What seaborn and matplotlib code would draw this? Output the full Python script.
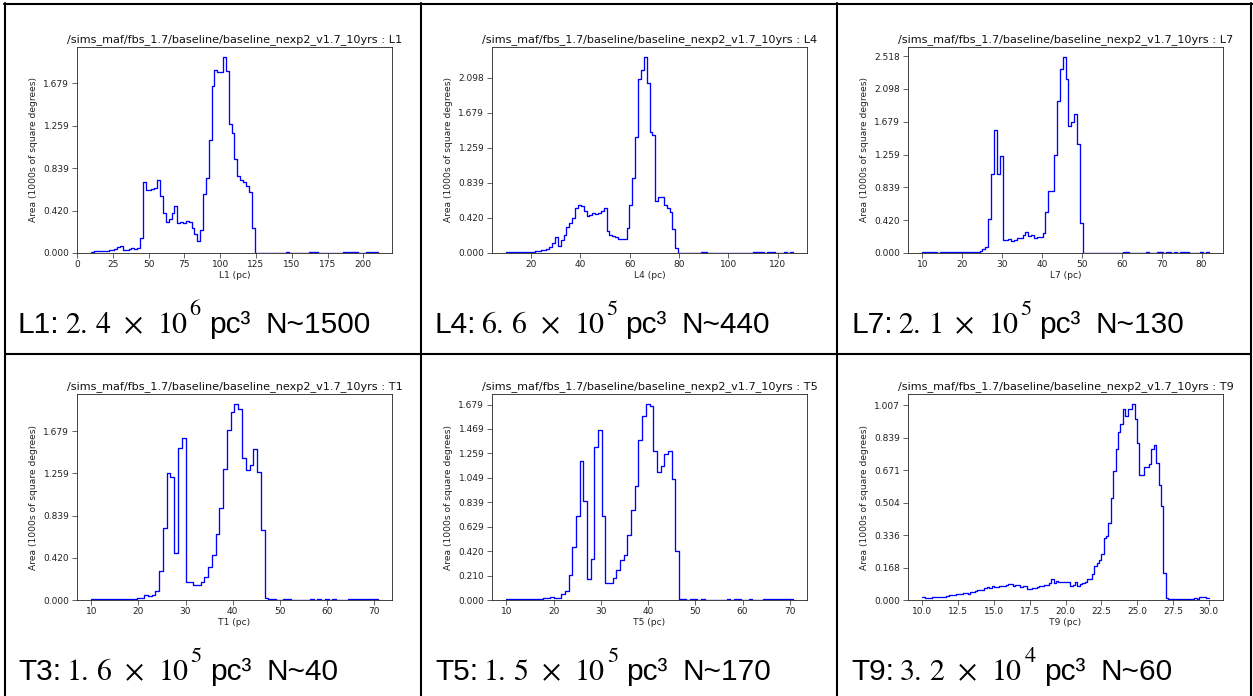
import numpy as np
import pandas as pd
import matplotlib
matplotlib.use("Agg")
import matplotlib.pyplot as plt
import seaborn as sns
from matplotlib.lines import Line2D
from matplotlib.ticker import FormatStrFormatter

# ---------------- data ----------------
run_name = "/sims_maf/fbs_1.7/baseline/baseline_nexp2_v1.7_10yrs"
metric_names = ["L1", "L4", "L7", "T1", "T5", "T9"]

# histogram bins: first edge and bin width (pc)
bin_start = [10.0, 10.0, 10.0, 10.0, 10.0, 10.0]
bin_width = [2.0, 1.16, 0.718, 0.8, 0.777, 1.0 / 6.0]

# bin heights (1000s of square degrees)
l1_heights = [0.008, 0.015, 0.015, 0.015, 0.02, 0.02, 0.025, 0.03, 0.04, 0.06,
              0.07, 0.03, 0.03, 0.04, 0.05, 0.04, 0.05, 0.15, 0.70, 0.62,
              0.62, 0.63, 0.64, 0.72, 0.56, 0.40, 0.31, 0.34, 0.40, 0.46,
              0.30, 0.31, 0.30, 0.32, 0.31, 0.25, 0.19, 0.12, 0.23, 0.58,
              0.74, 1.12, 1.65, 1.81, 1.79, 1.79, 1.94, 1.80, 1.28, 1.19,
              0.93, 0.76, 0.72, 0.70, 0.66, 0.60, 0.25, 0.0, 0.0, 0.0,
              0.0, 0.0, 0.0, 0.0, 0.0, 0.0, 0.0, 0.0, 0.012, 0.0,
              0.0, 0.0, 0.0, 0.0, 0.0, 0.0, 0.012, 0.012, 0.012, 0.0,
              0.0, 0.0, 0.0, 0.0, 0.0, 0.0, 0.0, 0.0, 0.012, 0.012,
              0.012, 0.012, 0.012, 0.0, 0.0, 0.0, 0.012, 0.012, 0.012, 0.012]

l4_heights = [0.008, 0.008, 0.008, 0.008, 0.008, 0.008, 0.008, 0.008, 0.008, 0.015,
              0.02, 0.025, 0.03, 0.04, 0.05, 0.07, 0.12, 0.19, 0.08, 0.16,
              0.21, 0.31, 0.36, 0.42, 0.54, 0.57, 0.56, 0.50, 0.44, 0.46,
              0.48, 0.47, 0.48, 0.50, 0.54, 0.26, 0.21, 0.20, 0.19, 0.17,
              0.17, 0.17, 0.30, 0.57, 0.90, 1.39, 2.08, 2.19, 2.35, 2.04,
              1.45, 1.41, 0.62, 0.67, 0.67, 0.58, 0.54, 0.49, 0.29, 0.06,
              0.0, 0.0, 0.0, 0.0, 0.0, 0.0, 0.0, 0.0, 0.012, 0.012,
              0.0, 0.0, 0.0, 0.0, 0.0, 0.0, 0.0, 0.0, 0.0, 0.0,
              0.0, 0.0, 0.0, 0.0, 0.0, 0.0, 0.012, 0.012, 0.012, 0.012,
              0.0, 0.012, 0.012, 0.012, 0.0, 0.0, 0.0, 0.012, 0.0, 0.012]

l7_heights = [0.01, 0.01, 0.01, 0.01, 0.01, 0.0, 0.01, 0.01, 0.01, 0.01,
              0.01, 0.01, 0.01, 0.01, 0.012, 0.012, 0.012, 0.018, 0.018, 0.018,
              0.03, 0.05, 0.08, 0.435, 1.01, 1.57, 1.01, 1.24, 0.17, 0.16,
              0.18, 0.15, 0.17, 0.19, 0.19, 0.23, 0.27, 0.22, 0.23, 0.19,
              0.20, 0.20, 0.25, 0.52, 0.79, 0.79, 1.25, 1.95, 2.35, 2.51,
              2.23, 1.63, 1.68, 1.78, 1.40, 0.38, 0.0, 0.0, 0.0, 0.0,
              0.0, 0.0, 0.0, 0.0, 0.0, 0.0, 0.0, 0.0, 0.0, 0.0,
              0.012, 0.012, 0.0, 0.0, 0.0, 0.0, 0.0, 0.0, 0.012, 0.0,
              0.0, 0.0, 0.012, 0.012, 0.0, 0.012, 0.012, 0.0, 0.012, 0.0,
              0.012, 0.012, 0.012, 0.0, 0.0, 0.0, 0.0, 0.012, 0.0, 0.012]

t1_heights = [0.008, 0.008, 0.008, 0.008, 0.008, 0.008, 0.008, 0.01, 0.01, 0.01,
              0.01, 0.012, 0.02, 0.018, 0.05, 0.04, 0.05, 0.09, 0.29, 0.72,
              1.26, 1.22, 0.47, 1.51, 1.61, 0.18, 0.175, 0.146, 0.146, 0.175,
              0.23, 0.33, 0.45, 0.66, 0.91, 1.30, 1.69, 1.87, 1.95, 1.90,
              1.41, 1.29, 1.34, 1.50, 1.27, 0.70, 0.015, 0.01, 0.01, 0.0,
              0.0, 0.01, 0.01, 0.0, 0.0, 0.0, 0.0, 0.0, 0.01, 0.0,
              0.01, 0.0, 0.01, 0.0, 0.01, 0.0, 0.0, 0.0, 0.01, 0.01,
              0.01, 0.01, 0.01, 0.01, 0.01, 0.01]

t5_heights = [0.008, 0.008, 0.008, 0.008, 0.012, 0.012, 0.012, 0.012, 0.012, 0.012,
              0.02, 0.02, 0.025, 0.02, 0.02, 0.05, 0.08, 0.215, 0.453, 0.72,
              1.19, 0.85, 0.178, 0.35, 1.31, 1.46, 0.72, 0.144, 0.144, 0.19,
              0.26, 0.34, 0.39, 0.56, 0.77, 0.98, 1.37, 1.58, 1.685, 1.67,
              1.28, 1.10, 1.15, 1.25, 1.28, 1.04, 0.42, 0.009, 0.009, 0.0,
              0.009, 0.009, 0.0, 0.009, 0.0, 0.0, 0.0, 0.0, 0.0, 0.0,
              0.009, 0.0, 0.009, 0.009, 0.0, 0.0, 0.009, 0.0, 0.0, 0.0,
              0.009, 0.009, 0.009, 0.009, 0.009, 0.009, 0.009, 0.009]

t9_heights = [0.014, 0.012, 0.012, 0.012, 0.013, 0.014, 0.015, 0.015, 0.017, 0.018,
              0.022, 0.024, 0.024, 0.025, 0.030, 0.030, 0.030, 0.038, 0.034, 0.033,
              0.040, 0.040, 0.045, 0.052, 0.050, 0.052, 0.060, 0.066, 0.060, 0.070,
              0.068, 0.068, 0.070, 0.070, 0.070, 0.075, 0.085, 0.085, 0.070, 0.075,
              0.075, 0.065, 0.070, 0.072, 0.055, 0.058, 0.060, 0.062, 0.065, 0.070,
              0.072, 0.075, 0.080, 0.090, 0.107, 0.090, 0.098, 0.092, 0.095, 0.095,
              0.095, 0.095, 0.072, 0.075, 0.095, 0.070, 0.085, 0.090, 0.095, 0.110,
              0.110, 0.135, 0.176, 0.190, 0.207, 0.240, 0.320, 0.330, 0.400, 0.527,
              0.665, 0.780, 0.870, 0.910, 0.985, 0.950, 0.985, 0.985, 1.014, 0.937,
              0.810, 0.648, 0.645, 0.688, 0.688, 0.703, 0.780, 0.800, 0.708, 0.596,
              0.487, 0.140, 0.009, 0.006, 0.006, 0.006, 0.006, 0.006, 0.006, 0.006,
              0.006, 0.006, 0.006, 0.006, 0.009, 0.007, 0.015, 0.017, 0.015, 0.012]

all_heights = [l1_heights, l4_heights, l7_heights, t1_heights, t5_heights, t9_heights]

# tick values
x_ticks = [[0, 25, 50, 75, 100, 125, 150, 175, 200],
           [20, 40, 60, 80, 100, 120],
           [10, 20, 30, 40, 50, 60, 70, 80],
           [10, 20, 30, 40, 50, 60, 70],
           [10, 20, 30, 40, 50, 60, 70],
           [10.0, 12.5, 15.0, 17.5, 20.0, 22.5, 25.0, 27.5, 30.0]]
x_fmt = ["%d", "%d", "%d", "%d", "%d", "%.1f"]
y_ticks = [[0.0, 0.4196, 0.8393, 1.2589, 1.6786],
           [0.0, 0.4196, 0.8393, 1.2589, 1.6786, 2.0982],
           [0.0, 0.4196, 0.8393, 1.2589, 1.6786, 2.0982, 2.5179],
           [0.0, 0.4196, 0.8393, 1.2589, 1.6786],
           [0.0, 0.2098, 0.4196, 0.6295, 0.8393, 1.0491, 1.2589, 1.4688, 1.6786],
           [0.0, 0.16786, 0.33572, 0.50357, 0.67143, 0.83929, 1.00715]]

# captions
cap_labels = ["L1", "L4", "L7", "T3", "T5", "T9"]
cap_mantissa = ["2.\\,4", "6.\\,6", "2.\\,1", "1.\\,6", "1.\\,5", "3.\\,2"]
cap_exponent = ["6", "5", "5", "5", "5", "4"]
cap_count = ["1500", "440", "130", "40", "170", "60"]

# ---------------- styling ----------------
sns.set_theme(style="ticks")
plt.rcParams['font.family'] = ['DejaVu Sans']
plt.rcParams['mathtext.fontset'] = 'stix'

W, H = 1253, 696
fig = plt.figure(figsize=(W / 100, H / 100), dpi=100)
fig.patch.set_facecolor("white")
renderer = fig.canvas.get_renderer()

col_left = [77, 492, 908]
row_top = [47, 394]
ax_w, ax_h = 315, 206
cap_x = [18, 435, 851]
cap_y = [333, 680]

sans = ["Liberation Sans", "DejaVu Sans"]
cap_size = 21.5


def put(x_px, base_px, s, size, family=None):
    kw = dict(fontsize=size, va="baseline", ha="left", color="black")
    if family is not None:
        kw["family"] = family
    t = fig.text(x_px / W, 1 - base_px / H, s, **kw)
    bb = t.get_window_extent(renderer)
    return bb.x1


for i in range(6):
    r, c = divmod(i, 3)
    left = col_left[c]
    top = row_top[r]
    ax = fig.add_axes([left / W, 1 - (top + ax_h) / H, ax_w / W, ax_h / H])
    ax.set_facecolor("white")
    heights = np.array(all_heights[i])
    n = len(heights)
    edges = bin_start[i] + bin_width[i] * np.arange(n + 1)
    centers = edges[:-1] + bin_width[i] / 2
    df = pd.DataFrame({"x": centers, "w": heights})
    sns.histplot(data=df, x="x", weights="w", bins=[float(e) for e in edges],
                 element="step", fill=False, color="blue", linewidth=0.95, ax=ax)
    span = edges[-1] - edges[0]
    ax.set_xlim(edges[0] - 0.05 * span, edges[-1] + 0.05 * span)
    ax.set_ylim(0, 1.05 * heights.max())
    ax.set_xticks(x_ticks[i])
    ax.xaxis.set_major_formatter(FormatStrFormatter(x_fmt[i]))
    ax.set_yticks(y_ticks[i])
    ax.yaxis.set_major_formatter(FormatStrFormatter("%.3f"))
    ax.tick_params(axis="both", labelsize=6.5, length=3.6, width=0.5,
                   color="#222222", labelcolor="#222222")
    ax.tick_params(axis="x", pad=1.2)
    ax.tick_params(axis="y", pad=2.0)
    for sp in ax.spines.values():
        sp.set_visible(True)
        sp.set_linewidth(0.6)
        sp.set_color("#222222")
    ax.set_title(f"{run_name} : {metric_names[i]}", fontsize=8.1, pad=3.6,
                 color="#111111")
    ax.set_xlabel(f"{metric_names[i]} (pc)", fontsize=6.6, labelpad=2.0,
                  color="#222222")
    ax.set_ylabel("Area (1000s of square degrees)", fontsize=6.6,
                  labelpad=3.5, color="#222222")

    # caption: label, mantissa x 10^exp, volume unit and count
    base = cap_y[r]
    x = put(cap_x[c], base, f"{cap_labels[i]}:", cap_size, sans)
    x = put(x + 5, base, "$" + cap_mantissa[i] + "$", cap_size)
    x = put(x + 12, base, r"$\times$", cap_size)
    x = put(x + 14, base, "$10$", cap_size)
    x = put(x + 1, base - 18, "$" + cap_exponent[i] + "$", 16)
    x = put(x + 8, base, "pc\u00b3", cap_size, sans)
    put(x + 15, base, f"N~{cap_count[i]}", cap_size, sans)

# table borders
lw = 1.5
vx = [5, 421, 837, 1251]
for xv in vx:
    fig.add_artist(Line2D([xv / W, xv / W], [1 - 3 / H, 0], color="black",
                          linewidth=lw, transform=fig.transFigure))
fig.add_artist(Line2D([4 / W, 1.0], [1 - 4 / H, 1 - 4 / H], color="black",
                      linewidth=lw, transform=fig.transFigure))
fig.add_artist(Line2D([5 / W, 1251 / W], [1 - 354 / H, 1 - 354 / H],
                      color="black", linewidth=lw, transform=fig.transFigure))

fig.savefig("out.png", dpi=100, facecolor="white")
